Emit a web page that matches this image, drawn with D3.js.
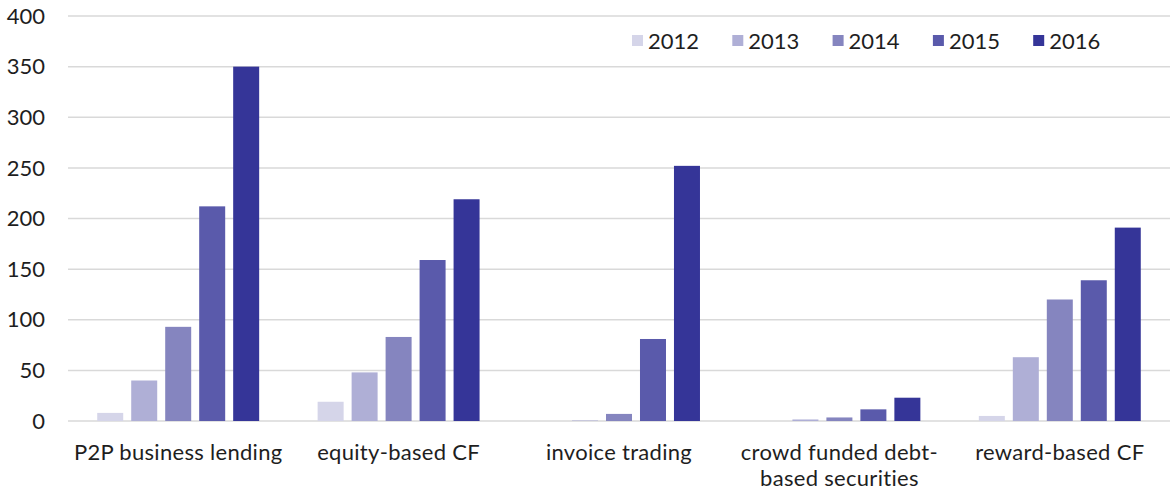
<!DOCTYPE html>
<html><head><meta charset="utf-8">
<script src="https://cdn.jsdelivr.net/npm/d3@7"></script>
<style>
body{margin:0;background:#fff;}
text{font-family:"Lato","Noto Sans",sans-serif;fill:#1e1e1e;font-weight:400;}
</style></head>
<body><svg id="c" width="1170" height="492"></svg>
<script>
const categories = [["P2P business lending"],["equity-based CF"],["invoice trading"],["crowd funded debt-","based securities"],["reward-based CF"]];
const years = ["2012","2013","2014","2015","2016"];
const colors = ["#d5d5e9","#afafd6","#8585bf","#5a5aab","#353598"];
const v2012 = [8, 19, 0, 0, 5];
const v2013 = [40, 48, 0.5, 1.5, 63];
const v2014 = [93, 83, 7, 3.5, 120];
const v2015 = [212, 159, 81, 11.5, 139];
const v2016 = [350, 219, 252, 23, 191];
const yTicks = [0,50,100,150,200,250,300,350,400];
const series = [v2012,v2013,v2014,v2015,v2016];

const svg = d3.select("#c");
const catKeys = categories.map(c=>c.join(" "));
const x0 = d3.scaleBand().domain(catKeys).range([68,1170]);
const x1 = d3.scaleBand().domain(years).range([0,x0.bandwidth()]).paddingInner(0.235).paddingOuter(0.86);
const y = d3.scaleLinear().domain([0,400]).range([421,16]);

// gridlines
svg.append("g").selectAll("line").data(yTicks).join("line")
  .attr("x1",68).attr("x2",1170)
  .attr("y1",d=>y(d)).attr("y2",d=>y(d))
  .attr("stroke","#d9d9d9").attr("stroke-width",1.5);

// y labels
svg.append("g").selectAll("text").data(yTicks).join("text")
  .attr("x",45).attr("y",d=>y(d)).attr("dy","0.35em")
  .attr("text-anchor","end").attr("font-size",22).text(d=>d);

// bars
const g = svg.append("g");
series.forEach((vals,si)=>{
  g.append("g").selectAll("rect").data(vals).join("rect")
    .attr("x",(d,i)=>x0(catKeys[i])+x1(years[si]))
    .attr("width",x1.bandwidth())
    .attr("y",d=>y(d))
    .attr("height",d=>y(0)-y(d))
    .attr("fill",colors[si]);
});

// x labels
const xl = svg.append("g");
categories.forEach((lines,i)=>{
  const cx = x0(catKeys[i])+x0.bandwidth()/2;
  const t = xl.append("text").attr("text-anchor","middle").attr("font-size",22)
    .attr("letter-spacing","0.3px").attr("x",cx).attr("y",460);
  lines.forEach((l,j)=>t.append("tspan").attr("x",cx).attr("dy",j?26:0).text(l));
});

// legend
const lg = svg.append("g");
years.forEach((yr,i)=>{
  const lx = 632 + i*100.3;
  lg.append("rect").attr("x",lx).attr("y",35).attr("width",11).attr("height",11).attr("fill",colors[i]);
  lg.append("text").attr("x",lx+16).attr("y",41).attr("dy","0.35em").attr("font-size",22).text(yr);
});
</script></body></html>
